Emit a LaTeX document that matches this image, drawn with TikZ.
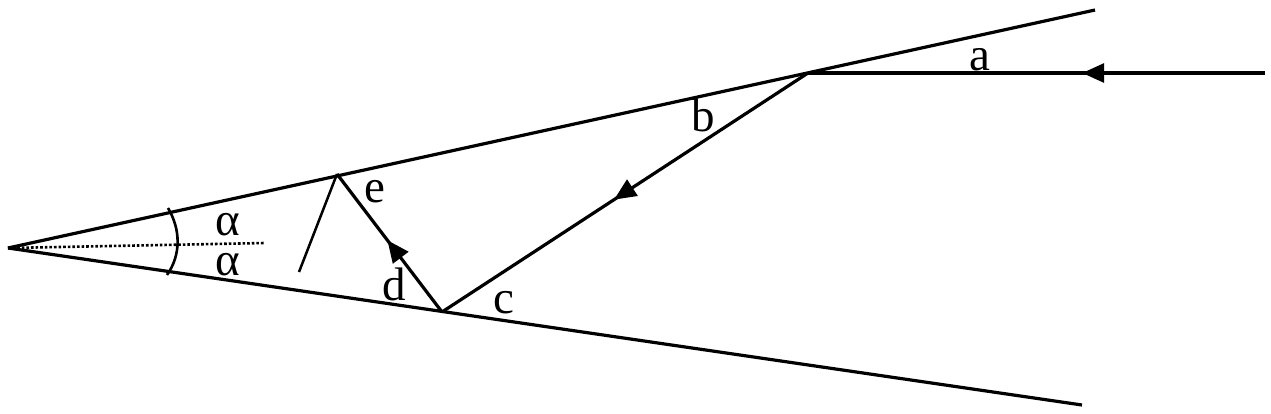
\documentclass[tikz,border=0pt]{standalone}
\usepackage{fontspec}
\setmainfont{Liberation Serif}
\usetikzlibrary{arrows.meta,decorations.markings}
\tikzset{
  wall/.style={line width=3.2pt},
  ray/.style={line width=3.2pt},
  thin ray/.style={line width=2.5pt},
  lbl/.style={anchor=base,inner sep=0pt,font=\fontsize{47}{50}\selectfont},
  midarrow/.style={postaction={decorate},decoration={markings,
     mark=at position #1 with {\arrow{Triangle[length=22pt,width=19pt]}}}}
}
\begin{document}
\begin{tikzpicture}[x=1pt,y=-1pt]
\useasboundingbox (0,0) rectangle (1271,413);
\coordinate (O) at (8,248);
\coordinate (U) at (1095,10);
\coordinate (L) at (1082,405);
\coordinate (S) at (1265,73);
\coordinate (A) at (808,73);
\coordinate (C) at (442,312);
\coordinate (E) at (337,174);
\coordinate (F) at (299,272);
\coordinate (B) at (265,243);
\coordinate (P) at (168,208);
\coordinate (Q) at (167,275);
\draw[wall] (O) -- (U);
\draw[wall] (O) -- (L);
\draw[line width=2.6pt,dotted] (O) -- (B);
\draw[line width=2.6pt] (P) .. controls (181,230) and (181,255) .. (Q);
\draw[ray,midarrow=0.40] (S) -- (A);
\draw[ray,midarrow=0.53] (A) -- (C);
\draw[ray,midarrow=0.52] (C) -- (E);
\draw[thin ray] (E) -- (F);
\node[lbl] (la) at (980,70) {a};
\node[lbl] (lb) at (703,131) {b};
\node[lbl] (lc) at (504,313) {c};
\node[lbl] (ld) at (394,300) {d};
\node[lbl] (le) at (375,202) {e};
\node[lbl] (al1) at (228,235) {α};
\node[lbl] (al2) at (228,275) {α};
\end{tikzpicture}
\end{document}
